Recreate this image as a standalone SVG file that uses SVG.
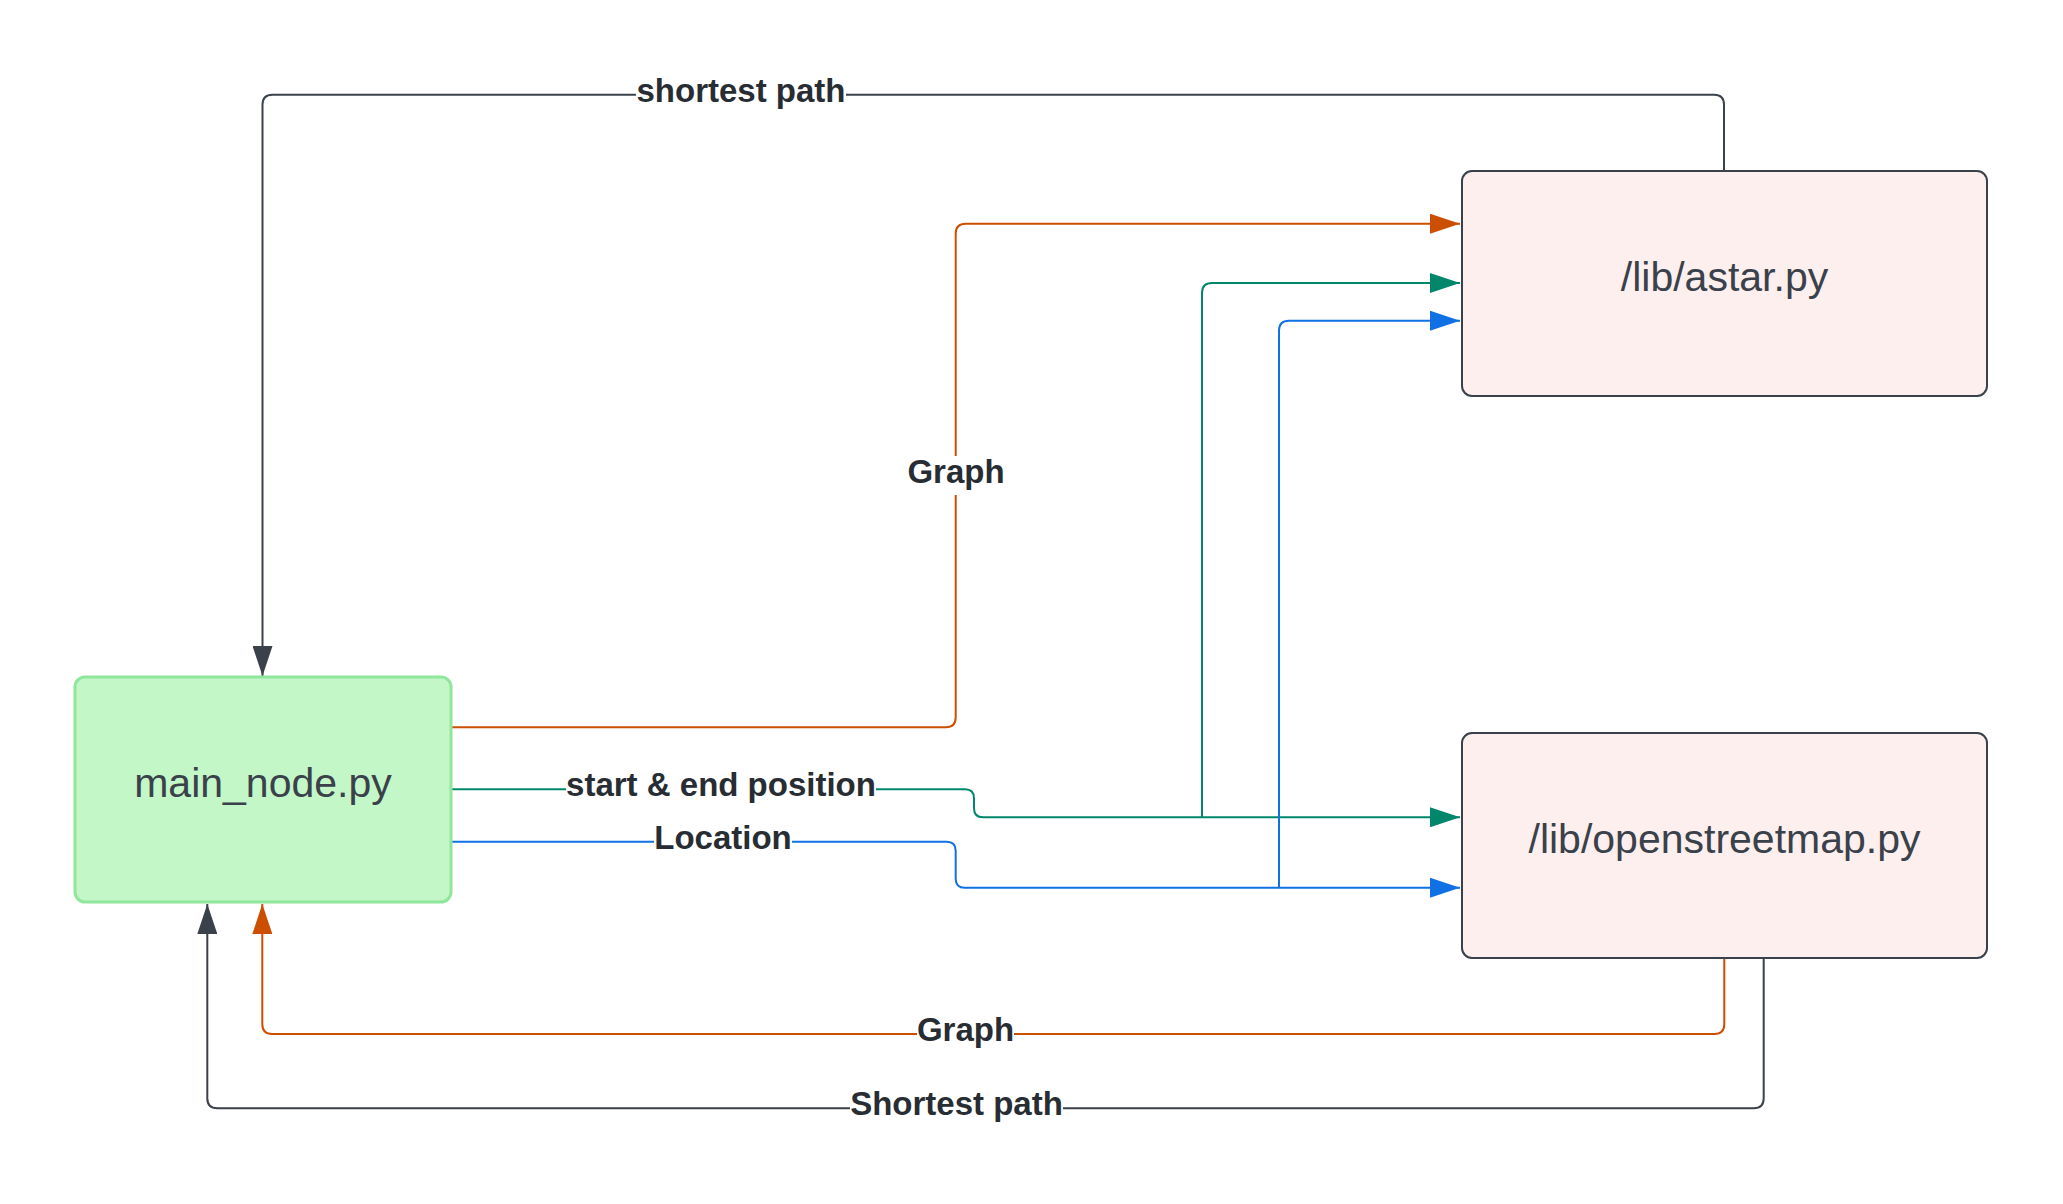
<svg xmlns="http://www.w3.org/2000/svg" width="2063" height="1204" viewBox="0 0 2063 1204">
  <style>
    .conn { fill: none; stroke-width: 2; }
    .dark { stroke: #3a414a; }
    .orange { stroke: #cc4e00; }
    .teal { stroke: #00866b; }
    .blue { stroke: #1071e5; }
    .lbl { font-family: "Liberation Sans", Arial, sans-serif; font-weight: bold; font-size: 33px; fill: #282c33; text-anchor: middle; }
    .lblbg { fill: #ffffff; }
    .ntext { font-family: "Liberation Sans", Arial, sans-serif; font-size: 41px; fill: #3a414a; text-anchor: middle; }
  </style>
  <defs>
    <marker id="ah-dark" markerUnits="userSpaceOnUse" markerWidth="30" markerHeight="20" refX="30" refY="10" orient="auto">
      <path d="M0,0 L30,10 L0,20 Z" fill="#3a414a"/>
    </marker>
    <marker id="ah-orange" markerUnits="userSpaceOnUse" markerWidth="30" markerHeight="20" refX="30" refY="10" orient="auto">
      <path d="M0,0 L30,10 L0,20 Z" fill="#cc4e00"/>
    </marker>
    <marker id="ah-teal" markerUnits="userSpaceOnUse" markerWidth="30" markerHeight="20" refX="30" refY="10" orient="auto">
      <path d="M0,0 L30,10 L0,20 Z" fill="#00866b"/>
    </marker>
    <marker id="ah-blue" markerUnits="userSpaceOnUse" markerWidth="30" markerHeight="20" refX="30" refY="10" orient="auto">
      <path d="M0,0 L30,10 L0,20 Z" fill="#1071e5"/>
    </marker>
  </defs>
  <rect x="0" y="0" width="2063" height="1204" fill="#ffffff"/>

  <g id="connectors">
    <!-- astar -> main : shortest path -->
    <path class="conn dark" d="M1724,171 V104.7 Q1724,94.7 1714,94.7 H272.5 Q262.5,94.7 262.5,104.7 V676" marker-end="url(#ah-dark)"/>
    <!-- main -> astar : Graph -->
    <path class="conn orange" d="M451,727.3 H945.7 Q955.7,727.3 955.7,717.3 V233.7 Q955.7,223.7 965.7,223.7 H1460" marker-end="url(#ah-orange)"/>
    <!-- main -> osm : start & end position -->
    <path class="conn teal" d="M451,789.3 H965 Q974,789.3 974,798.3 V808.3 Q974,817.3 983,817.3 H1460" marker-end="url(#ah-teal)"/>
    <!-- main -> astar : start & end position (branch) -->
    <path class="conn teal" d="M1202,817.3 V293 Q1202,283 1212,283 H1460" marker-end="url(#ah-teal)"/>
    <!-- main -> osm : Location -->
    <path class="conn blue" d="M451,841.7 H946.7 Q955.7,841.7 955.7,850.7 V878.7 Q955.7,887.7 964.7,887.7 H1460" marker-end="url(#ah-blue)"/>
    <!-- main -> astar : Location (branch) -->
    <path class="conn blue" d="M1279,887.7 V330.7 Q1279,320.7 1289,320.7 H1460" marker-end="url(#ah-blue)"/>
    <!-- osm -> main : Graph -->
    <path class="conn orange" d="M1724.3,958.3 V1024 Q1724.3,1034 1714.3,1034 H272.3 Q262.3,1034 262.3,1024 V904" marker-end="url(#ah-orange)"/>
    <!-- osm -> main : Shortest path -->
    <path class="conn dark" d="M1763.7,958.3 V1098.3 Q1763.7,1108.3 1753.7,1108.3 H217.3 Q207.3,1108.3 207.3,1098.3 V904" marker-end="url(#ah-dark)"/>

    <!-- labels -->
    <rect class="lblbg" x="636" y="76" width="210" height="36"/>
    <text class="lbl" x="741" y="101.7">shortest path</text>

    <rect class="lblbg" x="906" y="456" width="100" height="39"/>
    <text class="lbl" x="956" y="482.5">Graph</text>

    <rect class="lblbg" x="566" y="772" width="310" height="34"/>
    <text class="lbl" x="721" y="796.3">start &amp; end position</text>

    <rect class="lblbg" x="654" y="825" width="138" height="34"/>
    <text class="lbl" x="723" y="848.7">Location</text>

    <rect class="lblbg" x="917" y="1016" width="97" height="36"/>
    <text class="lbl" x="965.5" y="1041">Graph</text>

    <rect class="lblbg" x="850" y="1090" width="213" height="36"/>
    <text class="lbl" x="956.5" y="1115.3">Shortest path</text>
  </g>

  <g id="main_node">
    <rect x="75" y="677" width="376" height="225" rx="10" ry="10" fill="#c3f7c8" stroke="#90e69b" stroke-width="3"/>
    <text class="ntext" x="263" y="797">main_node.py</text>
  </g>

  <g id="astar">
    <rect x="1462" y="171" width="525" height="225" rx="10" ry="10" fill="#fdefee" stroke="#3a414a" stroke-width="2"/>
    <text class="ntext" x="1724.5" y="290.7">/lib/astar.py</text>
  </g>

  <g id="openstreetmap">
    <rect x="1462" y="733" width="525" height="225" rx="10" ry="10" fill="#fdefee" stroke="#3a414a" stroke-width="2"/>
    <text class="ntext" x="1724.5" y="853.2">/lib/openstreetmap.py</text>
  </g>
</svg>
